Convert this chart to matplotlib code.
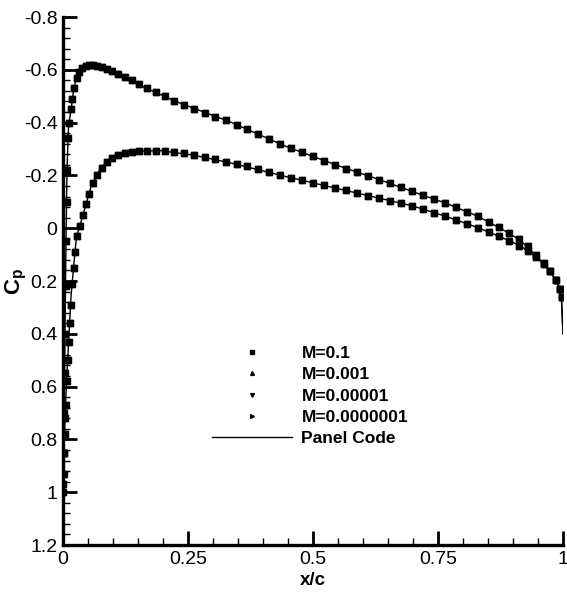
import matplotlib
matplotlib.use("Agg")
import matplotlib.pyplot as plt
from matplotlib.ticker import MultipleLocator, FixedLocator

plt.rcParams["font.family"] = ["Liberation Sans", "DejaVu Sans"]
plt.rcParams["mathtext.fontset"] = "custom"
plt.rcParams["mathtext.rm"] = "Liberation Sans"
plt.rcParams["mathtext.bf"] = "Liberation Sans:bold"


# surface pressure from the flow solver (all four Mach numbers coincide)
x_upper = [0.000, 0.001, 0.002, 0.003, 0.004, 0.005, 0.006, 0.007, 0.008, 0.010,
           0.012, 0.015, 0.018, 0.022, 0.027, 0.032, 0.038, 0.045, 0.052, 0.060,
           0.068, 0.077, 0.087, 0.098, 0.110, 0.123, 0.137, 0.152, 0.168, 0.185,
           0.203, 0.222, 0.242, 0.262, 0.283, 0.304, 0.325, 0.347, 0.368, 0.390,
           0.412, 0.434, 0.456, 0.478, 0.500, 0.522, 0.544, 0.566, 0.588, 0.610,
           0.632, 0.654, 0.676, 0.698, 0.720, 0.742, 0.764, 0.786, 0.808, 0.830,
           0.851, 0.872, 0.892, 0.911, 0.929, 0.946, 0.961, 0.974, 0.985, 0.993,
           0.998]
cp_upper = [0.97, 0.85, 0.70, 0.55, 0.40, 0.22, 0.05, -0.10, -0.22, -0.34,
            -0.40, -0.45, -0.49, -0.53, -0.57, -0.592, -0.606, -0.614, -0.618, -0.618,
            -0.616, -0.611, -0.604, -0.595, -0.585, -0.573, -0.561, -0.546, -0.531, -0.515,
            -0.499, -0.483, -0.468, -0.453, -0.438, -0.423, -0.408, -0.392, -0.376, -0.358,
            -0.339, -0.320, -0.303, -0.287, -0.272, -0.256, -0.241, -0.226, -0.211, -0.197,
            -0.184, -0.170, -0.155, -0.140, -0.125, -0.110, -0.096, -0.080, -0.063, -0.045,
            -0.025, -0.005, 0.018, 0.042, 0.068, 0.100, 0.130, 0.162, 0.195, 0.230,
            0.260]

x_lower = [0.000, 0.001, 0.002, 0.003, 0.004, 0.005, 0.007, 0.009, 0.011, 0.013,
           0.015, 0.018, 0.021, 0.024, 0.028, 0.033, 0.039, 0.045, 0.052, 0.060,
           0.068, 0.077, 0.087, 0.098, 0.110, 0.123, 0.137, 0.152, 0.168, 0.185,
           0.203, 0.222, 0.242, 0.262, 0.283, 0.304, 0.325, 0.347, 0.368, 0.390,
           0.412, 0.434, 0.456, 0.478, 0.500, 0.522, 0.544, 0.566, 0.588, 0.610,
           0.632, 0.654, 0.676, 0.698, 0.720, 0.742, 0.764, 0.786, 0.808, 0.830,
           0.851, 0.872, 0.892, 0.911, 0.929, 0.946, 0.961, 0.974, 0.985, 0.993,
           0.998]
cp_lower = [1.00, 0.93, 0.85, 0.78, 0.72, 0.67, 0.58, 0.50, 0.43, 0.36,
            0.29, 0.21, 0.15, 0.09, 0.03, -0.01, -0.05, -0.09, -0.13, -0.170,
            -0.200, -0.228, -0.250, -0.267, -0.278, -0.285, -0.290, -0.293, -0.294, -0.294,
            -0.292, -0.288, -0.283, -0.277, -0.269, -0.261, -0.252, -0.243, -0.234, -0.224,
            -0.213, -0.202, -0.191, -0.181, -0.171, -0.162, -0.152, -0.143, -0.133, -0.123,
            -0.114, -0.104, -0.094, -0.084, -0.072, -0.059, -0.046, -0.032, -0.017, -0.002,
            0.014, 0.030, 0.047, 0.066, 0.088, 0.110, 0.136, 0.164, 0.196, 0.230,
            0.260]

# panel code reference solution
x_panel_upper = [0.000, 0.002, 0.004, 0.006, 0.008, 0.011, 0.017, 0.021, 0.027, 0.037,
                 0.057, 0.100, 0.160, 0.227, 0.334, 0.447, 0.547, 0.634, 0.700, 0.767,
                 0.830, 0.881, 0.914, 0.947, 0.968, 0.981, 0.990, 0.997, 1.000]
cp_panel_upper = [0.97, 0.70, 0.40, 0.05, -0.22, -0.385, -0.46, -0.52, -0.574, -0.606,
                  -0.618, -0.593, -0.536, -0.479, -0.403, -0.309, -0.239, -0.183, -0.138, -0.094,
                  -0.045, 0.007, 0.045, 0.105, 0.148, 0.184, 0.215, 0.27, 0.40]
x_panel_lower = [0.000, 0.003, 0.007, 0.011, 0.014, 0.016, 0.021, 0.027, 0.041, 0.057,
                 0.077, 0.100, 0.127, 0.160, 0.194, 0.260, 0.334, 0.447, 0.547, 0.634,
                 0.700, 0.767, 0.830, 0.881, 0.914, 0.947, 0.968, 0.981, 0.990, 0.997,
                 1.000]
cp_panel_lower = [1.00, 0.78, 0.58, 0.44, 0.33, 0.26, 0.15, 0.032, -0.056, -0.164,
                  -0.233, -0.271, -0.284, -0.292, -0.294, -0.277, -0.248, -0.195, -0.151, -0.113,
                  -0.084, -0.044, -0.002, 0.038, 0.066, 0.110, 0.150, 0.184, 0.215, 0.27,
                  0.40]

mach_labels = ["M=0.1", "M=0.001", "M=0.00001", "M=0.0000001"]
mach_markers = ["s", "^", "v", ">"]

y_ticks = [-0.8, -0.6, -0.4, -0.2, 0, 0.2, 0.4, 0.6, 0.8, 1, 1.2]
y_ticklabels = ["-0.8", "-0.6", "-0.4", "-0.2", "0", "0.2", "0.4", "0.6", "0.8", "1", "1.2"]
x_ticks = [0, 0.25, 0.5, 0.75, 1]
x_ticklabels = ["0", "0.25", "0.5", "0.75", "1"]


fig = plt.figure(figsize=(5.67, 5.93), dpi=100)
ax = fig.add_axes([63 / 567, 48 / 593, 500 / 567, 528 / 593])

handles = []
for label, mk in zip(mach_labels, mach_markers):
    h, = ax.plot(x_upper, cp_upper, linestyle="none", marker=mk, ms=3.9,
                 color="black", label=label)
    ax.plot(x_lower, cp_lower, linestyle="none", marker=mk, ms=3.9, color="black")
    handles.append(h)

line, = ax.plot(x_panel_upper, cp_panel_upper, color="black", lw=1.0,
                label="Panel Code")
ax.plot(x_panel_lower, cp_panel_lower, color="black", lw=1.0)
handles.append(line)

ax.set_xlim(0, 1)
ax.set_ylim(1.2, -0.8)

ax.spines["top"].set_visible(False)
ax.spines["right"].set_visible(False)
ax.spines["left"].set_linewidth(2.4)
ax.spines["bottom"].set_linewidth(2.4)

ax.xaxis.set_major_locator(FixedLocator(x_ticks))
ax.set_xticklabels(x_ticklabels)
ax.yaxis.set_major_locator(FixedLocator(y_ticks))
ax.set_yticklabels(y_ticklabels)
ax.xaxis.set_minor_locator(MultipleLocator(0.05))
ax.yaxis.set_minor_locator(MultipleLocator(0.04))

ax.tick_params(which="both", direction="in", top=False, right=False)
ax.tick_params(which="major", length=10, width=2.0, labelsize=14)
ax.tick_params(which="minor", length=5, width=1.0)
ax.tick_params(axis="x", which="major", pad=4)
ax.tick_params(axis="y", which="major", pad=4)

ax.set_xlabel("x/c", fontsize=13.5, fontweight="bold")
ax.xaxis.set_label_coords(0.5, -0.052)
ax.set_ylabel(r"$\mathbf{C_p}$", fontsize=16)
ax.yaxis.set_label_coords(-0.068, 0.5)

leg = ax.legend(handles=handles, loc="upper left",
                bbox_to_anchor=(212 / 567, 1 - 346 / 593),
                bbox_transform=fig.transFigure, frameon=False,
                handlelength=4.6, handletextpad=0.55, labelspacing=0.35,
                borderpad=0, borderaxespad=0, markerscale=0.7,
                prop={"weight": "bold", "size": 12.5}, numpoints=1)

fig.savefig("out.png", dpi=100)
